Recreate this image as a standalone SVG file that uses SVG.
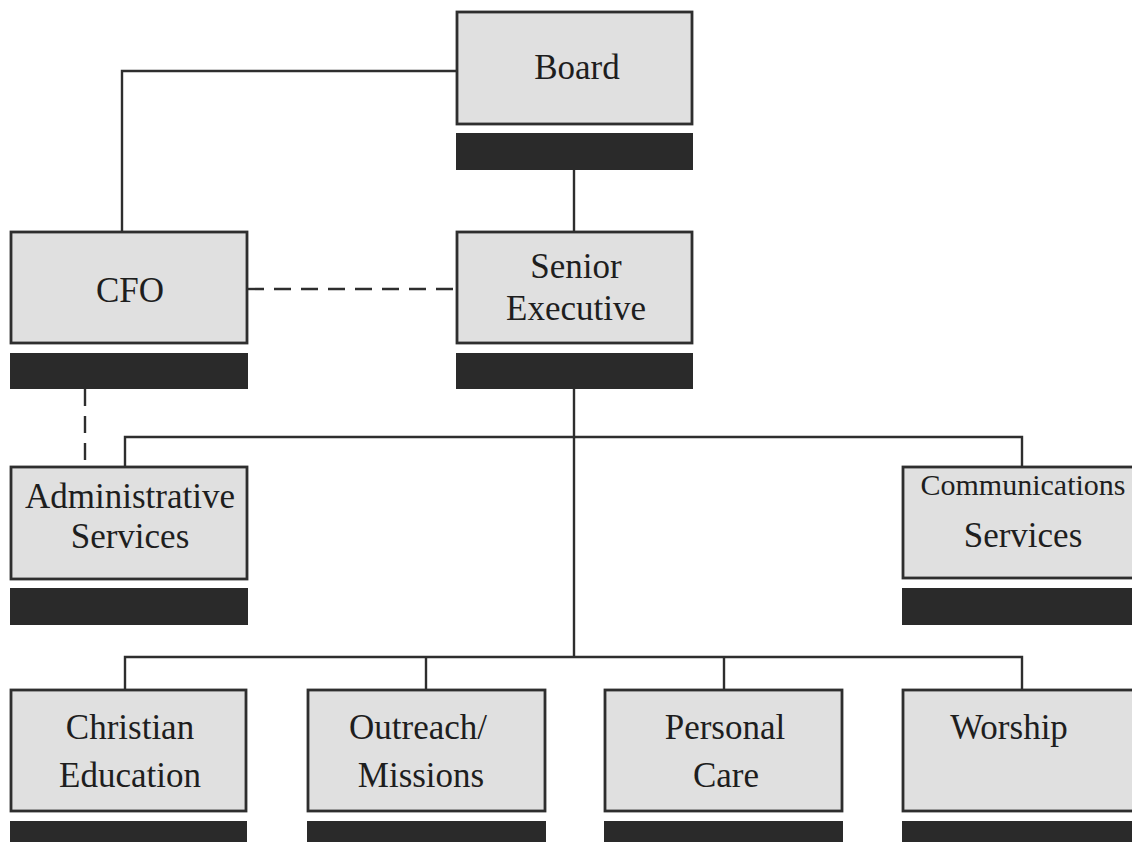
<svg xmlns="http://www.w3.org/2000/svg" width="1132" height="842" viewBox="0 0 1132 842">
<style>
.box{fill:#e0e0e0;stroke:#2e2e2e;stroke-width:2.8}
.bar{fill:#2a2a2a}
.ln{fill:none;stroke:#2e2e2e;stroke-width:2.4}
.dash{fill:none;stroke:#2e2e2e;stroke-width:2.4;stroke-dasharray:17 10}
text{font-family:"Liberation Serif","Times New Roman",serif;font-size:35px;fill:#1e1e1e;text-anchor:middle}
.sm{font-size:30px}
</style>
<rect width="1132" height="842" fill="#ffffff"/>
<g id="connectors">
<polyline class="ln" points="457,71 122,71 122,232"/>
<line class="ln" x1="574" y1="170" x2="574" y2="232"/>
<line class="dash" x1="247" y1="289" x2="457" y2="289"/>
<line class="dash" x1="85" y1="389" x2="85" y2="467"/>
<line class="ln" x1="574" y1="389" x2="574" y2="657"/>
<polyline class="ln" points="125,467 125,437 1022,437 1022,467"/>
<polyline class="ln" points="125,690 125,657 1022,657 1022,690"/>
<line class="ln" x1="426" y1="657" x2="426" y2="690"/>
<line class="ln" x1="724" y1="657" x2="724" y2="690"/>
</g>
<g id="board">
<rect class="box" x="457" y="12" width="235" height="112"/>
<rect class="bar" x="456" y="133" width="237" height="37"/>
<text x="577" y="79">Board</text>
</g>
<g id="cfo">
<rect class="box" x="11" y="232" width="236" height="111"/>
<rect class="bar" x="10" y="353" width="238" height="36"/>
<text x="130" y="302">CFO</text>
</g>
<g id="senior-executive">
<rect class="box" x="457" y="232" width="235" height="111"/>
<rect class="bar" x="456" y="353" width="237" height="36"/>
<text x="576" y="278">Senior</text>
<text x="576" y="320">Executive</text>
</g>
<g id="administrative-services">
<rect class="box" x="11" y="467" width="236" height="112"/>
<rect class="bar" x="10" y="588" width="238" height="37"/>
<text x="130" y="508">Administrative</text>
<text x="130" y="548">Services</text>
</g>
<g id="communications-services">
<rect class="box" x="903" y="467" width="232" height="111"/>
<rect class="bar" x="902" y="588" width="232" height="37"/>
<text class="sm" x="1023" y="495">Communications</text>
<text x="1023" y="547">Services</text>
</g>
<g id="christian-education">
<rect class="box" x="11" y="690" width="235" height="121"/>
<rect class="bar" x="10" y="821" width="237" height="23"/>
<text x="130" y="739">Christian</text>
<text x="130" y="787">Education</text>
</g>
<g id="outreach-missions">
<rect class="box" x="308" y="690" width="237" height="121"/>
<rect class="bar" x="307" y="821" width="239" height="23"/>
<text x="418" y="739">Outreach/</text>
<text x="421" y="787">Missions</text>
</g>
<g id="personal-care">
<rect class="box" x="605" y="690" width="237" height="121"/>
<rect class="bar" x="604" y="821" width="239" height="23"/>
<text x="725" y="739">Personal</text>
<text x="726" y="787">Care</text>
</g>
<g id="worship">
<rect class="box" x="903" y="690" width="232" height="121"/>
<rect class="bar" x="902" y="821" width="232" height="23"/>
<text x="1009" y="739">Worship</text>
</g>
</svg>
